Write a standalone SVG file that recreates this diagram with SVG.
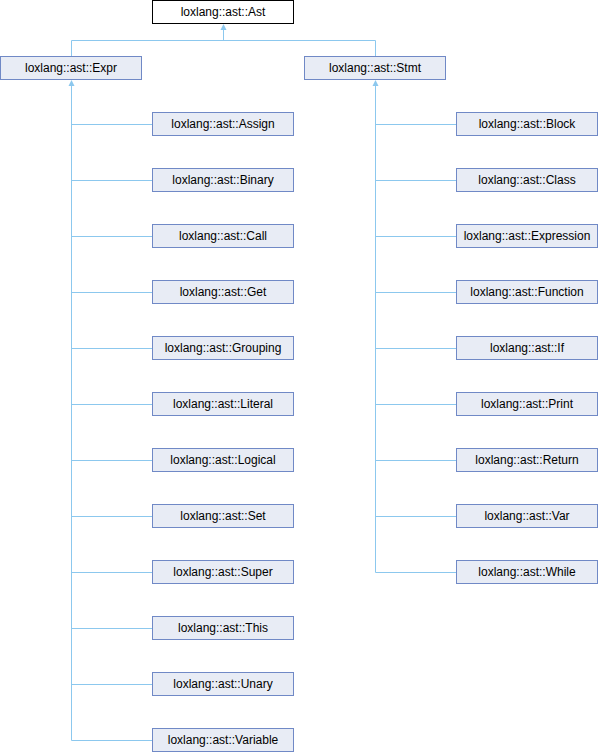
<svg xmlns="http://www.w3.org/2000/svg" width="598" height="752" viewBox="0 0 598 752">
<style>
.n rect{fill:#e8ecf5;stroke:#7089c6;stroke-width:1}
.root rect{fill:#ffffff;stroke:#000000;stroke-width:1}
text{font-family:"Liberation Sans",Arial,sans-serif;font-size:12px;fill:#000;text-anchor:middle}
.e{stroke:#8cc8ee;stroke-width:1;fill:none}
.a{fill:#8cc8ee;stroke:none}
</style>
<rect width="598" height="752" fill="#ffffff"/>
<g id="connectors">
<path class="e" d="M223.5,29V40.5M71.5,40.5H375.5M71.5,40.5V56M375.5,40.5V56"/>
<polygon class="a" points="223.5,24 220.5,30 226.5,30"/>
<path class="e" d="M71.5,85V740.5"/>
<polygon class="a" points="71.5,80 68.5,86 74.5,86"/>
<path class="e" d="M71.5,124.5H152M71.5,180.5H152M71.5,236.5H152M71.5,292.5H152M71.5,348.5H152M71.5,404.5H152M71.5,460.5H152M71.5,516.5H152M71.5,572.5H152M71.5,628.5H152M71.5,684.5H152M71.5,740.5H152"/>
<path class="e" d="M375.5,85V572.5"/>
<polygon class="a" points="375.5,80 372.5,86 378.5,86"/>
<path class="e" d="M375.5,124.5H456M375.5,180.5H456M375.5,236.5H456M375.5,292.5H456M375.5,348.5H456M375.5,404.5H456M375.5,460.5H456M375.5,516.5H456M375.5,572.5H456"/>
</g>
<g id="Ast" class="root"><rect x="152.5" y="0.5" width="141" height="23"/><text x="223" y="16">loxlang::ast::Ast</text></g>
<g id="Expr" class="n"><rect x="0.5" y="56.5" width="141" height="23"/><text x="71" y="72">loxlang::ast::Expr</text></g>
<g id="Stmt" class="n"><rect x="304.5" y="56.5" width="141" height="23"/><text x="375" y="72">loxlang::ast::Stmt</text></g>
<g id="Assign" class="n"><rect x="152.5" y="112.5" width="141" height="23"/><text x="223" y="128">loxlang::ast::Assign</text></g>
<g id="Binary" class="n"><rect x="152.5" y="168.5" width="141" height="23"/><text x="223" y="184">loxlang::ast::Binary</text></g>
<g id="Call" class="n"><rect x="152.5" y="224.5" width="141" height="23"/><text x="223" y="240">loxlang::ast::Call</text></g>
<g id="Get" class="n"><rect x="152.5" y="280.5" width="141" height="23"/><text x="223" y="296">loxlang::ast::Get</text></g>
<g id="Grouping" class="n"><rect x="152.5" y="336.5" width="141" height="23"/><text x="223" y="352">loxlang::ast::Grouping</text></g>
<g id="Literal" class="n"><rect x="152.5" y="392.5" width="141" height="23"/><text x="223" y="408">loxlang::ast::Literal</text></g>
<g id="Logical" class="n"><rect x="152.5" y="448.5" width="141" height="23"/><text x="223" y="464">loxlang::ast::Logical</text></g>
<g id="Set" class="n"><rect x="152.5" y="504.5" width="141" height="23"/><text x="223" y="520">loxlang::ast::Set</text></g>
<g id="Super" class="n"><rect x="152.5" y="560.5" width="141" height="23"/><text x="223" y="576">loxlang::ast::Super</text></g>
<g id="This" class="n"><rect x="152.5" y="616.5" width="141" height="23"/><text x="223" y="632">loxlang::ast::This</text></g>
<g id="Unary" class="n"><rect x="152.5" y="672.5" width="141" height="23"/><text x="223" y="688">loxlang::ast::Unary</text></g>
<g id="Variable" class="n"><rect x="152.5" y="728.5" width="141" height="23"/><text x="223" y="744">loxlang::ast::Variable</text></g>
<g id="Block" class="n"><rect x="456.5" y="112.5" width="141" height="23"/><text x="527" y="128">loxlang::ast::Block</text></g>
<g id="Class" class="n"><rect x="456.5" y="168.5" width="141" height="23"/><text x="527" y="184">loxlang::ast::Class</text></g>
<g id="Expression" class="n"><rect x="456.5" y="224.5" width="141" height="23"/><text x="527" y="240">loxlang::ast::Expression</text></g>
<g id="Function" class="n"><rect x="456.5" y="280.5" width="141" height="23"/><text x="527" y="296">loxlang::ast::Function</text></g>
<g id="If" class="n"><rect x="456.5" y="336.5" width="141" height="23"/><text x="527" y="352">loxlang::ast::If</text></g>
<g id="Print" class="n"><rect x="456.5" y="392.5" width="141" height="23"/><text x="527" y="408">loxlang::ast::Print</text></g>
<g id="Return" class="n"><rect x="456.5" y="448.5" width="141" height="23"/><text x="527" y="464">loxlang::ast::Return</text></g>
<g id="Var" class="n"><rect x="456.5" y="504.5" width="141" height="23"/><text x="527" y="520">loxlang::ast::Var</text></g>
<g id="While" class="n"><rect x="456.5" y="560.5" width="141" height="23"/><text x="527" y="576">loxlang::ast::While</text></g>
</svg>
